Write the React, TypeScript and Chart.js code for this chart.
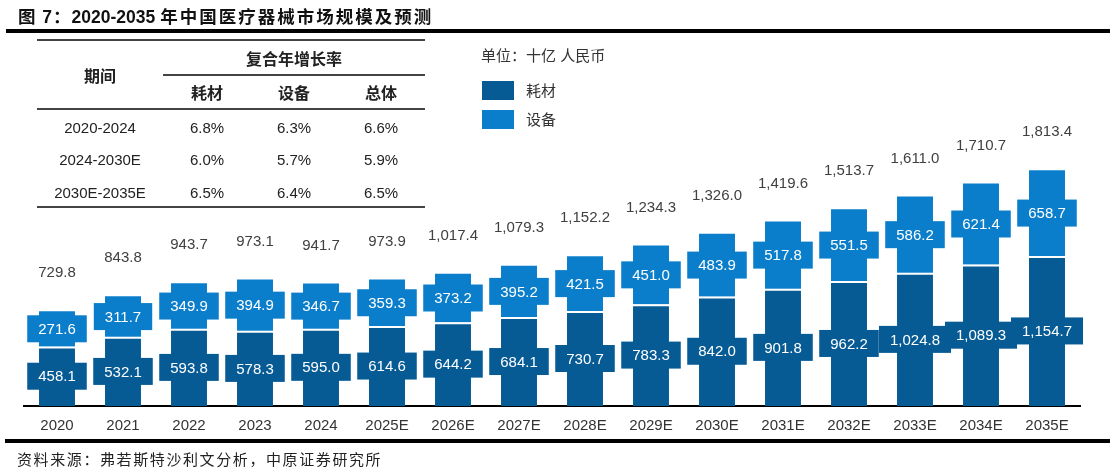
import React, { useEffect, useRef } from "react";
import { Chart, registerables } from "chart.js";

Chart.register(...registerables);

// Market size, billion RMB
const years = [
  "2020", "2021", "2022", "2023", "2024", "2025E", "2026E", "2027E",
  "2028E", "2029E", "2030E", "2031E", "2032E", "2033E", "2034E", "2035E",
];
const consumables = [
  458.1, 532.1, 593.8, 578.3, 595.0, 614.6, 644.2, 684.1,
  730.7, 783.3, 842.0, 901.8, 962.2, 1024.8, 1089.3, 1154.7,
];
const equipment = [
  271.6, 311.7, 349.9, 394.9, 346.7, 359.3, 373.2, 395.2,
  421.5, 451.0, 483.9, 517.8, 551.5, 586.2, 621.4, 658.7,
];
const totals = [
  729.8, 843.8, 943.7, 973.1, 941.7, 973.9, 1017.4, 1079.3,
  1152.2, 1234.3, 1326.0, 1419.6, 1513.7, 1611.0, 1710.7, 1813.4,
];

// CAGR table
const periods = ["2020-2024", "2024-2030E", "2030E-2035E"];
const cagrConsumables = ["6.8%", "6.0%", "6.5%"];
const cagrEquipment = ["6.3%", "5.7%", "6.4%"];
const cagrTotal = ["6.6%", "5.9%", "6.5%"];

const DARK = "#075b95";
const LIGHT = "#0b7ecb";
const LATIN = "'Liberation Sans', Arial, 'Noto Sans CJK SC', sans-serif";
const CJK = "'Liberation Sans', 'Noto Sans CJK SC', sans-serif";

const fmt = (v: number) =>
  v.toLocaleString("en-US", { minimumFractionDigits: 1, maximumFractionDigits: 1 });

const boxLabels = {
  id: "boxLabels",
  afterDatasetsDraw(chart: any) {
    const ctx = chart.ctx as CanvasRenderingContext2D;
    ctx.save();
    ctx.font = `15px ${LATIN}`;
    ctx.textAlign = "center";
    ctx.textBaseline = "middle";
    chart.data.datasets.forEach((ds: any, di: number) => {
      const meta = chart.getDatasetMeta(di);
      meta.data.forEach((bar: any, i: number) => {
        const txt = fmt(ds.data[i]);
        const cy = (bar.y + bar.base) / 2;
        const w = ctx.measureText(txt).width + 22;
        const h = 27;
        ctx.fillStyle = ds.backgroundColor;
        ctx.fillRect(bar.x - w / 2, cy - h / 2, w, h);
        ctx.fillStyle = "#ffffff";
        ctx.fillText(txt, bar.x, cy + 1);
      });
    });
    const ys = chart.scales.y;
    const xs = chart.scales.x;
    ctx.fillStyle = "#404040";
    totals.forEach((t, i) => {
      ctx.fillText(fmt(t), xs.getPixelForValue(i), ys.getPixelForValue(t) - 38);
    });
    ctx.restore();
  },
};

const abs = (x: number, y: number, extra: React.CSSProperties = {}): React.CSSProperties => ({
  position: "absolute",
  left: x,
  top: y,
  transform: "translate(-50%, -50%)",
  whiteSpace: "nowrap",
  ...extra,
});

const hline = (x: number, y: number, w: number, t: number, color: string): React.CSSProperties => ({
  position: "absolute",
  left: x,
  top: y,
  width: w,
  height: t,
  background: color,
});

export default function App() {
  const ref = useRef<HTMLCanvasElement | null>(null);

  useEffect(() => {
    if (!ref.current) return;
    const chart = new Chart(ref.current, {
      type: "bar",
      data: {
        labels: years,
        datasets: [
          {
            label: "耗材",
            data: consumables,
            backgroundColor: DARK,
            borderColor: "#ffffff",
            borderWidth: { top: 2, left: 0, right: 0, bottom: 0 },
            borderSkipped: false,
            categoryPercentage: 1,
            barPercentage: 0.545,
          },
          {
            label: "设备",
            data: equipment,
            backgroundColor: LIGHT,
            borderWidth: 0,
            categoryPercentage: 1,
            barPercentage: 0.545,
          },
        ],
      },
      options: {
        responsive: false,
        animation: false,
        layout: { padding: { left: 24, right: 30, top: 68, bottom: 36 } },
        plugins: {
          legend: { display: false },
          tooltip: { enabled: false },
          title: { display: false },
        },
        scales: {
          x: {
            stacked: true,
            grid: { display: false },
            border: { display: true, color: "#000000", width: 2 },
            ticks: {
              color: "#333333",
              font: { size: 15, family: LATIN },
              padding: 3,
              maxRotation: 0,
            },
            afterFit: (scale: any) => {
              scale.height = 30;
            },
          },
          y: {
            stacked: true,
            display: false,
            min: 0,
            max: 2600,
          },
        },
      },
      plugins: [boxLabels],
    });
    return () => chart.destroy();
  }, []);

  const txt: React.CSSProperties = { fontFamily: LATIN, fontSize: 15, color: "#222" };
  const bold: React.CSSProperties = { fontFamily: CJK, fontSize: 16, fontWeight: 700, color: "#222" };
  const colX = [207, 294, 381];
  const rowY = [127, 159, 192];

  return (
    <div
      style={{
        position: "absolute",
        left: 0,
        top: 0,
        width: 1110,
        height: 472,
        background: "#fff",
        overflow: "hidden",
      }}
    >
      <canvas ref={ref} width={1110} height={472} style={{ position: "absolute", left: 0, top: 0 }} />

      {/* Title */}
      <div
        style={{
          position: "absolute",
          left: 18,
          top: 3,
          fontFamily: CJK,
          fontWeight: 700,
          fontSize: 17.5,
          color: "#111",
          whiteSpace: "nowrap",
        }}
      >
        <span style={{ letterSpacing: 1 }}>图 7：</span>
        <span>2020-2035 </span>
        <span style={{ letterSpacing: 2 }}>年中国医疗器械市场规模及预测</span>
      </div>
      <div style={hline(6, 29, 1104, 4, "#000")} />

      {/* CAGR table */}
      <div style={hline(37, 39, 388, 2, "#444")} />
      <div style={hline(163, 74, 262, 2, "#444")} />
      <div style={hline(37, 108, 388, 2, "#444")} />
      <div style={hline(37, 206, 388, 2, "#444")} />
      <div style={abs(100, 75, bold)}>期间</div>
      <div style={abs(294, 58, bold)}>复合年增长率</div>
      <div style={abs(colX[0], 92, bold)}>耗材</div>
      <div style={abs(colX[1], 92, bold)}>设备</div>
      <div style={abs(colX[2], 92, bold)}>总体</div>
      {periods.map((p, i) => (
        <React.Fragment key={p}>
          <div style={abs(100, rowY[i], txt)}>{p}</div>
          <div style={abs(colX[0], rowY[i], txt)}>{cagrConsumables[i]}</div>
          <div style={abs(colX[1], rowY[i], txt)}>{cagrEquipment[i]}</div>
          <div style={abs(colX[2], rowY[i], txt)}>{cagrTotal[i]}</div>
        </React.Fragment>
      ))}

      {/* Unit and legend */}
      <div
        style={{
          position: "absolute",
          left: 481,
          top: 44,
          fontFamily: CJK,
          fontSize: 15,
          color: "#333",
          whiteSpace: "nowrap",
        }}
      >
        单位：十亿 人民币
      </div>
      <div style={{ position: "absolute", left: 482, top: 81, width: 32, height: 19, background: DARK }} />
      <div style={{ position: "absolute", left: 482, top: 110, width: 32, height: 19, background: LIGHT }} />
      <div style={{ position: "absolute", left: 526, top: 79, fontFamily: CJK, fontSize: 15, color: "#333" }}>耗材</div>
      <div style={{ position: "absolute", left: 526, top: 108, fontFamily: CJK, fontSize: 15, color: "#333" }}>设备</div>

      {/* Footer */}
      <div style={hline(5, 439, 1105, 4, "#000")} />
      <div
        style={{
          position: "absolute",
          left: 17,
          top: 448,
          fontFamily: "'Noto Sans CJK SC', sans-serif",
          fontSize: 15,
          letterSpacing: 1.6,
          color: "#222",
          whiteSpace: "nowrap",
        }}
      >
        资料来源：弗若斯特沙利文分析，中原证券研究所
      </div>
    </div>
  );
}
